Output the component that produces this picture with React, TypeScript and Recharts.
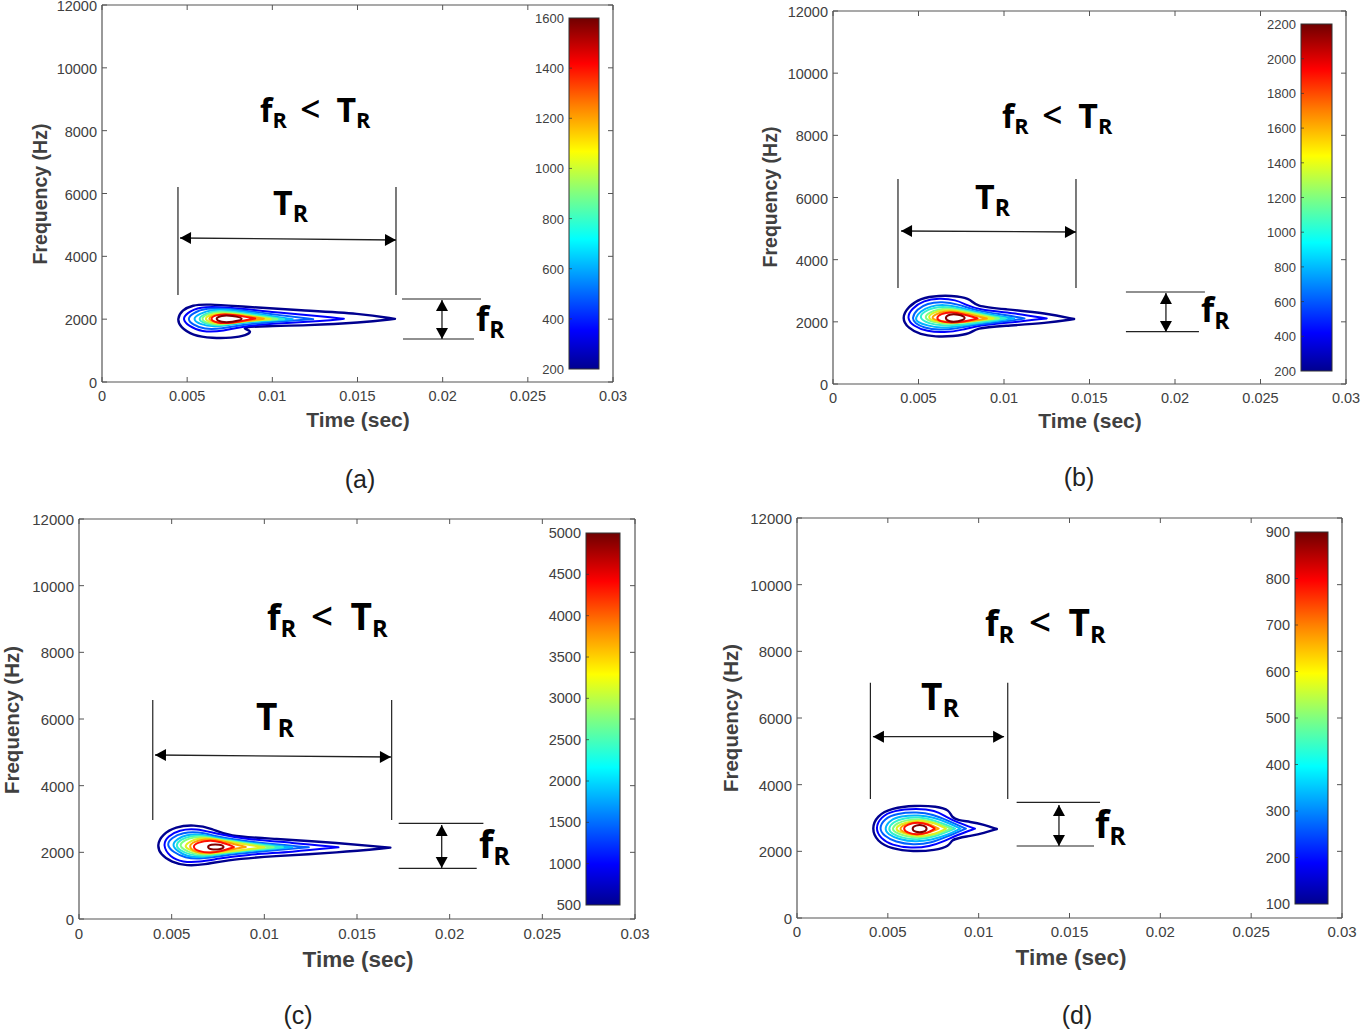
import React from 'react';
import { ComposedChart, BarChart, Bar, Line, XAxis, YAxis, ReferenceLine, ReferenceDot } from 'recharts';

type Pair = [number, number];

const timeTicks = [0, 0.005, 0.01, 0.015, 0.02, 0.025, 0.03];
const freqTicks = [0, 2000, 4000, 6000, 8000, 10000, 12000];
const levelColors = ['#00008f', '#0000ff', '#0060ff', '#00b4ff', '#30f0d0', '#80ff80', '#e0f020', '#ffa000', '#ff1000', '#800000'];

const contoursA: Pair[][] = [
  [[0.0044,2000],[0.0047,2290],[0.0053,2450],[0.0062,2480],[0.0082,2400],[0.0117,2280],[0.0152,2180],[0.0172,2010],[0.0172,2010],[0.0172,2010],[0.0152,1890],[0.0120,1800],[0.0095,1780],[0.0083,1740],[0.0084,1680],[0.0088,1620],[0.0085,1480],[0.0076,1400],[0.0065,1390],[0.0053,1480],[0.0046,1750]],
  [[0.0047,2000],[0.0050,2200],[0.0057,2400],[0.0072,2390],[0.0105,2200],[0.0130,2090],[0.0142,2010],[0.0142,2010],[0.0142,2010],[0.0130,1940],[0.0105,1870],[0.0082,1780],[0.0072,1620],[0.0058,1590],[0.0051,1780]],
  [[0.0050,2000],[0.0053,2190],[0.0061,2360],[0.0075,2340],[0.0105,2120],[0.0124,2000],[0.0124,2000],[0.0124,2000],[0.0105,1930],[0.0082,1830],[0.0070,1690],[0.0060,1670],[0.0053,1830]],
  [[0.0053,2000],[0.0057,2170],[0.0065,2320],[0.0078,2290],[0.0100,2090],[0.0112,2000],[0.0112,2000],[0.0112,2000],[0.0098,1950],[0.0080,1870],[0.0066,1740],[0.0057,1840]],
  [[0.0056,2000],[0.0060,2170],[0.0068,2280],[0.0082,2200],[0.0107,2000],[0.0107,2000],[0.0107,2000],[0.0082,1920],[0.0068,1770],[0.0060,1860]],
  [[0.0058,2010],[0.0061,2150],[0.0069,2250],[0.0082,2160],[0.0103,2000],[0.0103,2000],[0.0103,2000],[0.0082,1930],[0.0069,1800],[0.0061,1880]],
  [[0.0060,2010],[0.0063,2130],[0.0070,2210],[0.0083,2130],[0.0099,2000],[0.0099,2000],[0.0099,2000],[0.0083,1945],[0.0070,1830],[0.0063,1900]],
  [[0.0062,2010],[0.0065,2120],[0.0072,2180],[0.0084,2110],[0.0095,2010],[0.0095,2010],[0.0095,2010],[0.0084,1950],[0.0072,1850],[0.0065,1920]],
  [[0.0063,2010],[0.0067,2150],[0.0076,2160],[0.0090,2020],[0.0090,2020],[0.0090,2020],[0.0076,1870],[0.0067,1870]],
  [[0.0066,2010],[0.0070,2120],[0.0076,2120],[0.0085,2010],[0.0076,1900],[0.0070,1900]],
];

const contoursB: Pair[][] = [
  [[0.0040,2120],[0.0044,2490],[0.0051,2760],[0.0062,2850],[0.0073,2830],[0.0081,2720],[0.0083,2500],[0.0100,2410],[0.0125,2280],[0.0141,2090],[0.0141,2090],[0.0141,2090],[0.0125,1960],[0.0100,1870],[0.0083,1800],[0.0081,1620],[0.0070,1530],[0.0060,1520],[0.0051,1590],[0.0044,1790]],
  [[0.0043,2120],[0.0046,2430],[0.0053,2690],[0.0062,2760],[0.0072,2710],[0.0078,2540],[0.0085,2390],[0.0105,2290],[0.0125,2110],[0.0125,2110],[0.0125,2110],[0.0105,1980],[0.0085,1890],[0.0076,1740],[0.0065,1650],[0.0055,1690],[0.0047,1860]],
  [[0.0046,2120],[0.0049,2400],[0.0055,2600],[0.0064,2650],[0.0073,2570],[0.0085,2340],[0.0100,2230],[0.0112,2110],[0.0112,2110],[0.0112,2110],[0.0100,2010],[0.0085,1920],[0.0072,1780],[0.0062,1730],[0.0053,1810],[0.0048,1950]],
  [[0.0048,2120],[0.0051,2340],[0.0057,2510],[0.0065,2560],[0.0074,2470],[0.0086,2280],[0.0106,2110],[0.0106,2110],[0.0106,2110],[0.0086,1960],[0.0073,1850],[0.0063,1800],[0.0055,1880],[0.0049,2000]],
  [[0.0050,2120],[0.0053,2330],[0.0059,2460],[0.0066,2490],[0.0075,2400],[0.0087,2240],[0.0101,2110],[0.0101,2110],[0.0101,2110],[0.0087,1990],[0.0074,1900],[0.0064,1870],[0.0056,1940]],
  [[0.0053,2120],[0.0056,2300],[0.0062,2410],[0.0068,2430],[0.0076,2350],[0.0097,2110],[0.0097,2110],[0.0097,2110],[0.0076,1970],[0.0066,1920],[0.0058,1990]],
  [[0.0055,2120],[0.0058,2290],[0.0064,2380],[0.0070,2380],[0.0078,2290],[0.0094,2110],[0.0094,2110],[0.0094,2110],[0.0078,2000],[0.0068,1950],[0.0060,2010]],
  [[0.0057,2110],[0.0060,2250],[0.0065,2340],[0.0071,2340],[0.0079,2250],[0.0090,2110],[0.0090,2110],[0.0090,2110],[0.0079,2010],[0.0070,1970],[0.0062,2030]],
  [[0.0060,2120],[0.0063,2260],[0.0069,2320],[0.0076,2250],[0.0085,2110],[0.0085,2110],[0.0076,2000],[0.0069,1970],[0.0063,2000]],
  [[0.0065,2120],[0.0068,2250],[0.0073,2250],[0.0079,2120],[0.0073,2000],[0.0068,2000]],
];

const contoursC: Pair[][] = [
  [[0.0042,2220],[0.0045,2540],[0.0052,2770],[0.0062,2830],[0.0072,2720],[0.0080,2480],[0.0105,2410],[0.0140,2280],[0.0168,2140],[0.0168,2140],[0.0168,2140],[0.0140,1990],[0.0105,1890],[0.0078,1760],[0.0068,1630],[0.0058,1590],[0.0050,1700],[0.0044,1930]],
  [[0.0045,2220],[0.0048,2490],[0.0054,2670],[0.0063,2720],[0.0074,2560],[0.0090,2390],[0.0115,2290],[0.0140,2150],[0.0140,2150],[0.0140,2150],[0.0115,2010],[0.0090,1930],[0.0075,1810],[0.0065,1710],[0.0056,1700],[0.0049,1860]],
  [[0.0047,2220],[0.0050,2440],[0.0056,2590],[0.0064,2620],[0.0074,2480],[0.0090,2320],[0.0124,2150],[0.0124,2150],[0.0124,2150],[0.0095,2010],[0.0078,1910],[0.0066,1800],[0.0057,1830],[0.0051,2000]],
  [[0.0050,2220],[0.0053,2410],[0.0058,2530],[0.0065,2550],[0.0075,2430],[0.0090,2290],[0.0115,2150],[0.0115,2150],[0.0115,2150],[0.0090,2040],[0.0076,1940],[0.0066,1840],[0.0058,1880],[0.0053,2040]],
  [[0.0052,2220],[0.0055,2390],[0.0060,2490],[0.0066,2510],[0.0076,2390],[0.0090,2270],[0.0110,2150],[0.0110,2150],[0.0110,2150],[0.0090,2050],[0.0077,1960],[0.0067,1880],[0.0060,1920],[0.0054,2070]],
  [[0.0054,2220],[0.0057,2370],[0.0062,2460],[0.0068,2470],[0.0078,2350],[0.0105,2150],[0.0105,2150],[0.0105,2150],[0.0078,2000],[0.0068,1920],[0.0061,1960],[0.0056,2100]],
  [[0.0057,2200],[0.0060,2340],[0.0065,2430],[0.0071,2420],[0.0080,2320],[0.0100,2150],[0.0100,2150],[0.0100,2150],[0.0080,2020],[0.0070,1950],[0.0063,1990],[0.0058,2120]],
  [[0.0059,2190],[0.0062,2320],[0.0068,2400],[0.0075,2370],[0.0090,2160],[0.0090,2160],[0.0090,2160],[0.0075,2020],[0.0068,1970],[0.0062,2020]],
  [[0.0061,2170],[0.0064,2300],[0.0071,2370],[0.0076,2320],[0.0084,2160],[0.0084,2160],[0.0076,2020],[0.0071,1980],[0.0064,2030]],
  [[0.0069,2160],[0.0071,2240],[0.0076,2240],[0.0079,2160],[0.0076,2080],[0.0071,2080]],
];

const contoursD: Pair[][] = [
  [[0.0041,2680],[0.0044,3070],[0.0052,3300],[0.0065,3380],[0.0077,3350],[0.0084,3240],[0.0085,3020],[0.0089,2930],[0.0095,2890],[0.0103,2800],[0.0110,2670],[0.0110,2670],[0.0110,2670],[0.0103,2550],[0.0095,2460],[0.0089,2400],[0.0085,2340],[0.0084,2160],[0.0076,2030],[0.0064,1990],[0.0052,2070],[0.0044,2300]],
  [[0.0043,2680],[0.0046,3030],[0.0053,3230],[0.0066,3290],[0.0076,3230],[0.0082,3040],[0.0088,2870],[0.0098,2680],[0.0098,2680],[0.0098,2680],[0.0088,2490],[0.0081,2300],[0.0073,2140],[0.0063,2090],[0.0052,2180],[0.0046,2390]],
  [[0.0045,2680],[0.0048,2980],[0.0055,3140],[0.0066,3180],[0.0075,3110],[0.0083,2920],[0.0093,2680],[0.0093,2680],[0.0093,2680],[0.0083,2450],[0.0074,2250],[0.0064,2190],[0.0054,2280],[0.0048,2460]],
  [[0.0048,2680],[0.0051,2930],[0.0057,3060],[0.0067,3090],[0.0075,3020],[0.0083,2860],[0.0090,2680],[0.0090,2680],[0.0090,2680],[0.0083,2490],[0.0074,2340],[0.0065,2280],[0.0056,2360],[0.0050,2510]],
  [[0.0050,2680],[0.0053,2890],[0.0059,3000],[0.0067,3030],[0.0075,2950],[0.0087,2680],[0.0087,2680],[0.0087,2680],[0.0075,2420],[0.0066,2340],[0.0058,2400],[0.0052,2530]],
  [[0.0052,2680],[0.0055,2850],[0.0061,2950],[0.0068,2970],[0.0075,2890],[0.0085,2680],[0.0085,2680],[0.0085,2680],[0.0075,2470],[0.0067,2400],[0.0059,2460],[0.0054,2570]],
  [[0.0054,2680],[0.0057,2820],[0.0063,2910],[0.0069,2930],[0.0076,2850],[0.0082,2680],[0.0082,2680],[0.0082,2680],[0.0076,2510],[0.0068,2440],[0.0061,2500],[0.0056,2590]],
  [[0.0056,2680],[0.0059,2800],[0.0065,2880],[0.0071,2860],[0.0078,2680],[0.0078,2680],[0.0078,2680],[0.0071,2530],[0.0065,2480],[0.0059,2560]],
  [[0.0058,2680],[0.0061,2810],[0.0066,2880],[0.0072,2820],[0.0076,2680],[0.0076,2680],[0.0072,2550],[0.0066,2490],[0.0061,2550]],
  [[0.0063,2680],[0.0065,2790],[0.0070,2790],[0.0072,2680],[0.0070,2570],[0.0065,2570]],
];

const colorTicksA = [200, 400, 600, 800, 1000, 1200, 1400, 1600];
const colorTicksB = [200, 400, 600, 800, 1000, 1200, 1400, 1600, 1800, 2000, 2200];
const colorTicksC = [500, 1000, 1500, 2000, 2500, 3000, 3500, 4000, 4500, 5000];
const colorTicksD = [100, 200, 300, 400, 500, 600, 700, 800, 900];

const jetStops: [string, string][] = [
  ['0%', '#00008f'], ['11%', '#0000ff'], ['37%', '#00ffff'], ['50%', '#80ff80'],
  ['62%', '#ffff00'], ['75%', '#ff8000'], ['87%', '#ff0000'], ['100%', '#700000'],
];

const panels = [
  {
    id: 'a', caption: '(a)', capX: 360, capY: 479, contours: contoursA, colorTicks: colorTicksA,
    plot: [102, 613, 5, 382], bar: [569, 599, 18, 369], colorFont: 13,
    xTitle: [358, 427, 21], yTitle: [47, 194, 19.5], tickFont: 14.5, annFont: 32, xTickDrop: 19,
    tLeft: 0.00446, tRight: 0.01726, tTop: 6207, tBottom: 2769,
    tArrow: [0.00458, 4584, 0.01726, 4520],
    fTop: [0.01761, 0.02225, 2642], fBottom: [0.01767, 0.02184, 1369], fArrow: [0.01996, 2610, 1369],
    main: [0.00928, 8276], tText: [0.01004, 5316], fText: [0.02196, 1623],
  },
  {
    id: 'b', caption: '(b)', capX: 1079, capY: 477, contours: contoursB, colorTicks: colorTicksB,
    plot: [833, 1346, 11, 384], bar: [1301, 1332, 24, 371], colorFont: 13,
    xTitle: [1090, 428, 21], yTitle: [777, 197, 19.5], tickFont: 14.5, annFont: 32, xTickDrop: 19,
    tLeft: 0.0038, tRight: 0.01421, tTop: 6595, tBottom: 3088,
    tArrow: [0.00398, 4922, 0.01421, 4890],
    fTop: [0.01713, 0.02175, 2960], fBottom: [0.01713, 0.0214, 1683], fArrow: [0.01947, 2927, 1673],
    main: [0.00988, 8235], tText: [0.0083, 5630], fText: [0.02152, 1995],
  },
  {
    id: 'c', caption: '(c)', capX: 298, capY: 1015, contours: contoursC, colorTicks: colorTicksC,
    plot: [79, 635, 519, 919], bar: [586, 620, 533, 905], colorFont: 14.5,
    xTitle: [358, 967, 22.5], yTitle: [19, 720, 20.5], tickFont: 15, annFont: 35, xTickDrop: 20,
    tLeft: 0.00398, tRight: 0.01687, tTop: 6570, tBottom: 2970,
    tArrow: [0.0041, 4920, 0.01683, 4860],
    fTop: [0.01725, 0.02182, 2870], fBottom: [0.01725, 0.02146, 1520], fArrow: [0.01957, 2820, 1530],
    main: [0.01014, 8670], tText: [0.00955, 5670], fText: [0.02158, 1830],
  },
  {
    id: 'd', caption: '(d)', capX: 1077, capY: 1015, contours: contoursD, colorTicks: colorTicksD,
    plot: [797, 1342, 518, 918], bar: [1295, 1328, 532, 904], colorFont: 14.5,
    xTitle: [1071, 965, 22.5], yTitle: [738, 718, 20.5], tickFont: 15, annFont: 35, xTickDrop: 19,
    tLeft: 0.00404, tRight: 0.0116, tTop: 7060, tBottom: 3570,
    tArrow: [0.00418, 5440, 0.0114, 5440],
    fTop: [0.01209, 0.01668, 3470], fBottom: [0.01209, 0.01635, 2160], fArrow: [0.01442, 3390, 2160],
    main: [0.01035, 8460], tText: [0.00683, 6240], fText: [0.0164, 2400],
  },
];

const SANS = '"Liberation Sans", Arial, sans-serif';
const ANN = '"Open Sans", "Noto Sans", sans-serif';
const INK = '#404040';
const TICK_LEN = 5;

const DoubleArrow = (props: any) => {
  const { x1, y1, x2, y2 } = props;
  const dx = x2 - x1;
  const dy = y2 - y1;
  const len = Math.hypot(dx, dy) || 1;
  const ux = dx / len;
  const uy = dy / len;
  const L = 11;
  const W = 6;
  const head = (px: number, py: number, sx: number) => {
    const bx = px - sx * ux * L;
    const by = py - sx * uy * L;
    return `${px},${py} ${bx - uy * W},${by + ux * W} ${bx + uy * W},${by - ux * W}`;
  };
  return (
    <g>
      <line x1={x1} y1={y1} x2={x2} y2={y2} stroke="#222" strokeWidth={1.3} />
      <polygon points={head(x1, y1, -1)} fill="#000" />
      <polygon points={head(x2, y2, 1)} fill="#000" />
    </g>
  );
};

const subscriptText = (parts: string[], size: number) => (props: any) => {
  const { cx, cy } = props;
  return (
    <text x={cx} y={cy} fontFamily={ANN} fontWeight={700} fill="#000" fontSize={size}>
      {parts.map((p, i) => {
        if (p === 'R') return <tspan key={i} fontSize={size * 0.68} dy={size * 0.2}>{p}</tspan>;
        if (p === '<') return <tspan key={i} dx={size * 0.42} dy={-size * 0.2} fontWeight={600} fontSize={size * 1.1}>{p}</tspan>;
        if (i > 0 && parts[i - 1] === '<') return <tspan key={i} dx={size * 0.5} fontSize={size * 1.06}>{p}</tspan>;
        return <tspan key={i}>{p}</tspan>;
      })}
    </text>
  );
};

const toPoints = (c: Pair[]) => c.map(([t, f]) => ({ t, f }));

const Panel = ({ p }: { p: (typeof panels)[number] }) => {
  const [x0, x1, y0, y1] = p.plot;
  const YW = 100;
  const left = x0 - YW;
  const top = y0 - 20;
  const width = YW + (x1 - x0) + 16;
  const height = 20 + (y1 - y0) + 70;
  const line = { stroke: '#222', strokeWidth: 1.2 };
  const axisStroke = { stroke: '#555', strokeWidth: 1.2 };
  const xTick = (t: any) => (
    <g>
      <line x1={t.x} x2={t.x} y1={t.y} y2={t.y - TICK_LEN} stroke="#555" />
      <line x1={t.x} x2={t.x} y1={t.y - (y1 - y0)} y2={t.y - (y1 - y0) + TICK_LEN} stroke="#555" />
      <text x={t.x} y={t.y + p.xTickDrop} textAnchor="middle" fontSize={p.tickFont} fill={INK} fontFamily={SANS}>{t.payload.value}</text>
    </g>
  );
  const yTick = (t: any) => (
    <g>
      <line x1={t.x} x2={t.x + TICK_LEN} y1={t.y} y2={t.y} stroke="#555" />
      <line x1={t.x + (x1 - x0)} x2={t.x + (x1 - x0) - TICK_LEN} y1={t.y} y2={t.y} stroke="#555" />
      <text x={t.x - 5} y={t.y + 6} textAnchor="end" fontSize={p.tickFont} fill={INK} fontFamily={SANS}>{t.payload.value}</text>
    </g>
  );
  const xTitle = () => (
    <text x={p.xTitle[0] - left} y={p.xTitle[1] - top} textAnchor="middle" fontFamily={SANS} fontWeight={700} fontSize={p.xTitle[2]} fill={INK}>
      Time (sec)
    </text>
  );
  const yTitle = () => (
    <text
      transform={`translate(${p.yTitle[0] - left},${p.yTitle[1] - top}) rotate(-90)`}
      textAnchor="middle" fontFamily={SANS} fontWeight={700} fontSize={p.yTitle[2]} fill={INK}
    >
      Frequency (Hz)
    </text>
  );
  return (
    <div style={{ position: 'absolute', left, top }}>
      <ComposedChart width={width} height={height} margin={{ top: 19, right: 15, bottom: 0, left: 0 }}>
        <XAxis dataKey="t" type="number" domain={[0, 0.03]} ticks={timeTicks} interval={0} height={70} tickSize={0} tickMargin={0} tick={xTick} axisLine={axisStroke} tickLine={false} label={xTitle} />
        <XAxis xAxisId="top" orientation="top" dataKey="t" type="number" domain={[0, 0.03]} ticks={timeTicks} interval={0} height={1} tickSize={0} tick={false} axisLine={axisStroke} tickLine={false} />
        <YAxis type="number" domain={[0, 12000]} ticks={freqTicks} interval={0} width={YW} tickSize={0} tickMargin={0} tick={yTick} axisLine={axisStroke} tickLine={false} label={yTitle} />
        <YAxis yAxisId="right" orientation="right" type="number" domain={[0, 12000]} ticks={freqTicks} interval={0} width={1} tickSize={0} tick={false} axisLine={axisStroke} tickLine={false} />
        {p.contours.map((c, i) => (
          <Line
            key={i}
            data={toPoints(c)}
            dataKey="f"
            type="basisClosed"
            stroke={levelColors[i]}
            strokeWidth={i === 0 ? 2.4 : 2}
            strokeLinejoin="round"
            fill="none"
            dot={false}
            activeDot={false}
            legendType="none"
            isAnimationActive={false}
          />
        ))}
        <ReferenceLine segment={[{ x: p.tLeft, y: p.tTop }, { x: p.tLeft, y: p.tBottom }]} style={line} />
        <ReferenceLine segment={[{ x: p.tRight, y: p.tTop }, { x: p.tRight, y: p.tBottom }]} style={line} />
        <ReferenceLine segment={[{ x: p.fTop[0], y: p.fTop[2] }, { x: p.fTop[1], y: p.fTop[2] }]} style={line} />
        <ReferenceLine segment={[{ x: p.fBottom[0], y: p.fBottom[2] }, { x: p.fBottom[1], y: p.fBottom[2] }]} style={line} />
        <ReferenceLine segment={[{ x: p.tArrow[0], y: p.tArrow[1] }, { x: p.tArrow[2], y: p.tArrow[3] }]} shape={DoubleArrow} />
        <ReferenceLine segment={[{ x: p.fArrow[0], y: p.fArrow[1] }, { x: p.fArrow[0], y: p.fArrow[2] }]} shape={DoubleArrow} />
        <ReferenceDot x={p.main[0]} y={p.main[1]} r={0} shape={subscriptText(['f', 'R', '<', 'T', 'R'], p.annFont)} />
        <ReferenceDot x={p.tText[0]} y={p.tText[1]} r={0} shape={subscriptText(['T', 'R'], p.annFont + 2)} />
        <ReferenceDot x={p.fText[0]} y={p.fText[1]} r={0} shape={subscriptText(['f', 'R'], p.annFont + 2)} />
      </ComposedChart>
    </div>
  );
};

const ColorBar = ({ p }: { p: (typeof panels)[number] }) => {
  const [bx0, bx1, by0, by1] = p.bar;
  const ticks = p.colorTicks;
  const low = ticks[0];
  const high = ticks[ticks.length - 1];
  const YW = 50;
  const pad = 10;
  const cTick = (t: any) => (
    <g>
      <text x={t.x - 5} y={t.y + 5} textAnchor="end" fontSize={p.colorFont} fill={INK} fontFamily={SANS}>{t.payload.value}</text>
    </g>
  );
  const barShape = (b: any) => {
    const gradient = `url(#jet-${p.id})`;
    return (
      <g>
        <rect x={b.x} y={b.y} width={b.width} height={b.height} fill={gradient} stroke="#333" strokeWidth={1} />
        {ticks.slice(1, -1).map((v) => {
          const y = b.y + b.height * (1 - (v - low) / (high - low));
          return <line key={v} x1={b.x} x2={b.x + 3} y1={y} y2={y} stroke="#333" strokeOpacity={0.7} />;
        })}
      </g>
    );
  };
  return (
    <div style={{ position: 'absolute', left: bx0 - YW, top: by0 - pad }}>
      <BarChart
        width={YW + (bx1 - bx0) + 2}
        height={by1 - by0 + 2 * pad}
        data={[{ name: p.id, range: [low, high] }]}
        margin={{ top: pad, bottom: pad, left: 0, right: 2 }}
        barCategoryGap={0}
      >
        <defs>
          <linearGradient id={`jet-${p.id}`} x1="0" y1="1" x2="0" y2="0">
            {jetStops.map(([o, c]) => <stop key={o} offset={o} stopColor={c} />)}
          </linearGradient>
        </defs>
        <XAxis dataKey="name" hide />
        <YAxis type="number" domain={[low, high]} ticks={ticks} interval={0} width={YW} tickSize={0} tickMargin={0} tick={cTick} axisLine={false} tickLine={false} />
        <Bar dataKey="range" shape={barShape} isAnimationActive={false} />
      </BarChart>
    </div>
  );
};

export default function App() {
  return (
    <div style={{ position: 'absolute', left: 0, top: 0, width: 1362, height: 1031, overflow: 'hidden', background: '#fff' }}>
      {panels.map((p) => (
        <React.Fragment key={p.id}>
          <Panel p={p} />
          <ColorBar p={p} />
          <div style={{ position: 'absolute', left: p.capX - 40, width: 80, top: p.capY - 14, lineHeight: '28px', textAlign: 'center', fontFamily: SANS, fontSize: 25, color: '#222' }}>
            {p.caption}
          </div>
        </React.Fragment>
      ))}
    </div>
  );
}
